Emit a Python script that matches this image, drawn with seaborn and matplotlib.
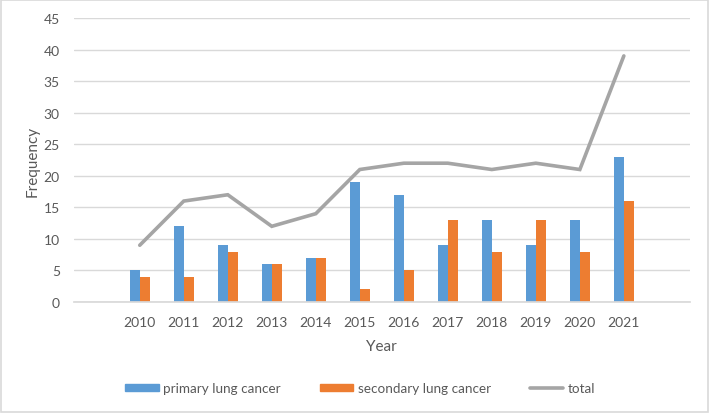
import matplotlib
matplotlib.use("Agg")
import matplotlib.pyplot as plt
import seaborn as sns
import pandas as pd
import numpy as np
from matplotlib.patches import Patch, Rectangle
from matplotlib.lines import Line2D

years = ["2010", "2011", "2012", "2013", "2014", "2015", "2016", "2017", "2018", "2019", "2020", "2021"]
primary = [5, 12, 9, 6, 7, 19, 17, 9, 13, 9, 13, 23]
secondary = [4, 4, 8, 6, 7, 2, 5, 13, 8, 13, 8, 16]
total = [9, 16, 17, 12, 14, 21, 22, 22, 21, 22, 21, 39]
series_names = ["primary lung cancer", "secondary lung cancer", "total"]
yticks = [0, 5, 10, 15, 20, 25, 30, 35, 40, 45]

c_blue = "#5B9BD5"
c_orange = "#ED7D31"
c_gray = "#A5A5A5"
txt = "#595959"

sns.set_theme(style="white")
plt.rcParams["font.family"] = ["Lato", "DejaVu Sans"]

df = pd.DataFrame({
    "Year": years * 2,
    "Frequency": primary + secondary,
    "Series": [series_names[0]] * len(years) + [series_names[1]] * len(years),
})

fig = plt.figure(figsize=(7.09, 4.14), dpi=100)
ax = fig.add_axes([0.104, 0.268, 0.869, 0.686])

sns.barplot(data=df, x="Year", y="Frequency", hue="Series", order=years,
            hue_order=series_names[:2], palette=[c_blue, c_orange],
            width=0.46, gap=0, saturation=1, linewidth=0, legend=False, ax=ax)
sns.pointplot(x=years, y=total, order=years, color=c_gray, markers="",
              linestyles="-", ax=ax, errorbar=None)
for l in ax.lines:
    l.set_linewidth(2.6)
    l.set_solid_joinstyle("miter")

ax.set_xlim(-1.5, len(years) + 0.5)
ax.set_ylim(0, 45)
ax.set_yticks(yticks)
ax.yaxis.grid(True, color="#D9D9D9", linewidth=1)
ax.set_axisbelow(True)
for s in ["top", "right", "left"]:
    ax.spines[s].set_visible(False)
ax.spines["bottom"].set_color("#D9D9D9")
ax.tick_params(axis="both", length=0, labelsize=10, colors=txt)
ax.tick_params(axis="x", pad=10)
ax.tick_params(axis="y", pad=10)
ax.set_xlabel("Year", fontsize=11, color=txt, labelpad=8)
ax.set_ylabel("Frequency", fontsize=11, color=txt, labelpad=3)

handles = [Patch(color=c_blue), Patch(color=c_orange), Line2D([0], [0], color=c_gray, lw=2.6)]
fig.legend(handles, series_names, loc="center", bbox_to_anchor=(0.508, 0.06), ncol=3,
           frameon=False, fontsize=9.7, labelcolor=txt, handlelength=2.5,
           handleheight=0.5, columnspacing=2.9, handletextpad=0.3)

fig.patches.append(Rectangle((0.002, 0.003), 0.996, 0.994, transform=fig.transFigure,
                             fill=False, edgecolor="#D9D9D9", linewidth=1.2))

fig.savefig("out.png", dpi=100)
